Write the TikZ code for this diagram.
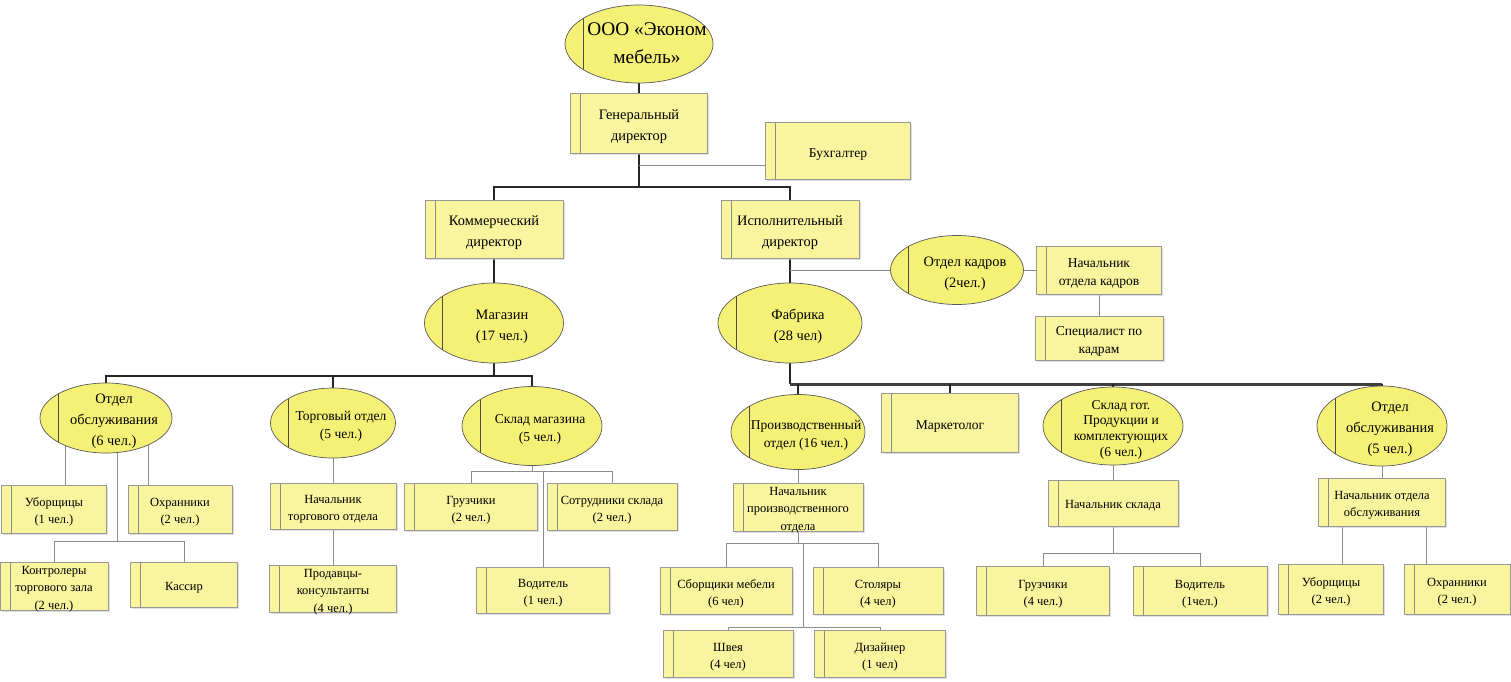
\documentclass[tikz,border=0pt]{standalone}
\usepackage{fontspec}
\setmainfont{Liberation Serif}
\usetikzlibrary{positioning,shapes.geometric,backgrounds,shadows}

\definecolor{boxfill}{RGB}{249,245,158}
\definecolor{ovalfill}{RGB}{245,241,118}
\tikzset{sz/.style 2 args={minimum width=#1*0.02cm, minimum height=#2*0.02cm}}
% text of an oval, kept right of its inner divider
\newcommand\ovaltext[2][1.35em]{\begin{tabular}{@{\hspace{0.32cm}}c@{}}\rule{0pt}{#1}#2\end{tabular}}
% text of a box with several lines
\newcommand\unittext[1]{\begin{tabular}{@{}c@{}}\rule{0pt}{1.35em}#1\end{tabular}}

\begin{document}
\begin{tikzpicture}[
  x=0.02cm, y=-0.02cm,
  font=\fontsize{7.1}{10}\selectfont,
  unit/.style={rectangle, draw=black!40, line width=0.4pt, fill=boxfill, align=center,
               inner xsep=2pt, inner ysep=-3pt,
               execute at begin node={\rule{0pt}{1.12em}},
               drop shadow={shadow xshift=1pt, shadow yshift=-1pt, fill=black!25},
               path picture={\draw[black!45, line width=0.4pt]
                 ([xshift=0.2cm]path picture bounding box.south west) --
                 ([xshift=0.2cm]path picture bounding box.north west);}},
  dept/.style={ellipse, draw=black!65, line width=0.4pt, fill=ovalfill,
               inner xsep=-9.5pt, inner ysep=-7pt,
               path picture={\draw[black!70, line width=0.4pt]
                 ([xshift=0.36cm]path picture bounding box.south west) --
                 ([xshift=0.36cm]path picture bounding box.north west);}},
  big/.style={font=\fontsize{11}{16}\selectfont},
  mid/.style={font=\fontsize{8.2}{12}\selectfont},
  sm/.style={font=\fontsize{7.7}{10.5}\selectfont},
  trunk/.style={draw=black!85, line width=1.1pt},
  bar/.style={draw=black!75, line width=1.7pt},
  twig/.style={draw=black!45, line width=0.55pt}
]
\useasboundingbox (0,0) rectangle (1511,681);
% ---------------- management
\node[dept, big, sz={148}{78}] (firm) at (639,44) {\ovaltext[0pt]{ООО «Эконом\\мебель»}};
\node[unit, mid, sz={137}{60}] (gen) at (639,123) {\unittext{Генеральный\\директор}};
\node[unit, sm, sz={145}{57}] (buh) at (838,151) {Бухгалтер};
\node[unit, mid, sz={138}{58}] (kom) at (494,229) {\unittext{Коммерческий\\директор}};
\node[unit, mid, sz={138}{58}] (isp) at (790,229) {\unittext{Исполнительный\\директор}};
\node[dept, mid, sz={139}{80}] (mag) at (494,323) {\ovaltext{Магазин\\(17 чел.)}};
\node[dept, mid, sz={144}{80}] (fab) at (790,323) {\ovaltext{Фабрика\\(28 чел)}};
\node[dept, mid, sz={133}{69}] (kadry) at (957,270) {\ovaltext{Отдел кадров\\(2чел.)}};
\node[unit, sm, sz={125}{48}] (nachk) at (1099,270) {\unittext{Начальник\\отдела кадров}};
\node[unit, sm, sz={128}{44}] (spec) at (1099,338) {\unittext{Специалист по\\кадрам}};
% ---------------- shop
\node[dept, mid, sz={132}{70}] (obs6) at (106,418) {\ovaltext{Отдел\\обслуживания\\(6 чел.)}};
\node[dept, sm, sz={125}{70}] (torg) at (333,423) {\ovaltext{Торговый отдел\\(5 чел.)}};
\node[dept, sm, sz={140}{79}] (sklm) at (532,426) {\ovaltext{Склад магазина\\(5 чел.)}};
\node[unit, sz={105}{48}] (ubor6) at (54,509) {\unittext{Уборщицы\\(1 чел.)}};
\node[unit, sz={104}{48}] (ohr6) at (180,509) {\unittext{Охранники\\(2 чел.)}};
\node[unit, sz={108}{48}] (kontr) at (54,586) {\unittext{Контролеры\\торгового зала\\(2 чел.)}};
\node[unit, sz={107}{45}] (kassa) at (184,585) {Кассир};
\node[unit, sz={126}{46}] (nachtorg) at (333,506) {\unittext{Начальник\\торгового отдела}};
\node[unit, sz={127}{45}] (prod) at (333,589) {\unittext{Продавцы-\\консультанты\\(4 чел.)}};
\node[unit, sz={133}{47}] (gruz2) at (471,507) {\unittext{Грузчики\\(2 чел.)}};
\node[unit, sz={130}{47}] (sotr) at (612,507) {\unittext{Сотрудники склада\\(2 чел.)}};
\node[unit, sz={133}{46}] (vod1) at (543,590) {\unittext{Водитель\\(1 чел.)}};
% ---------------- factory
\node[dept, sm, sz={134}{75}] (proizv) at (798,432) {\ovaltext{Производственный\\отдел (16 чел.)}};
\node[unit, sm, sz={137}{59}] (market) at (950,423) {Маркетолог};
\node[dept, sm, sz={140}{78}, font=\fontsize{7.7}{9}\selectfont] (sklg) at (1113,426)
  {\ovaltext{Склад гот.\\Продукции и\\комплектующих\\(6 чел.)}};
\node[dept, mid, sz={130}{80}] (obs5) at (1382,426) {\ovaltext{Отдел\\обслуживания\\(5 чел.)}};
\node[unit, sz={130}{48}] (nachpr) at (798,507) {\unittext{Начальник\\производственного\\отдела}};
\node[unit, sz={132}{47}] (sborsh) at (726,591) {\unittext{Сборщики мебели\\(6 чел)}};
\node[unit, sz={130}{47}] (stol) at (878,591) {\unittext{Столяры\\(4 чел)}};
\node[unit, sz={130}{47}] (shveya) at (728,654) {\unittext{Швея\\(4 чел)}};
\node[unit, sz={131}{47}] (dizain) at (880,654) {\unittext{Дизайнер\\(1 чел)}};
\node[unit, sz={130}{46}] (nachskl) at (1113,503) {Начальник склада};
\node[unit, sz={133}{49}] (gruz4) at (1043,591) {\unittext{Грузчики\\(4 чел.)}};
\node[unit, sz={134}{49}] (vod4) at (1200,591) {\unittext{Водитель\\(1чел.)}};
\node[unit, sz={127}{48}] (nachobs) at (1382,502) {\unittext{Начальник отдела\\обслуживания}};
\node[unit, sz={105}{50}] (ubor5) at (1331,589) {\unittext{Уборщицы\\(2 чел.)}};
\node[unit, sz={106}{50}] (ohr5) at (1457,589) {\unittext{Охранники\\(2 чел.)}};
% ---------------- connectors
\begin{scope}[on background layer]
\draw[trunk] (firm) -- (gen);
\draw[trunk] (gen.south) -- ++(0,34) coordinate (gj);
\draw[trunk] (kom.north) |- (gj) -| (isp.north);
\draw[twig] (gen.south) ++(0,12) coordinate (gb) -- (gb -| buh.west);
\draw[trunk] (kom) -- (mag);
\draw[trunk] (isp) -- (fab);
\draw[twig] (kadry.west) -- (kadry.west -| isp.south);
\draw[twig] (kadry) -- (nachk);
\draw[twig] (nachk) -- (spec);
% shop
\draw[trunk] (mag.south) -- ++(0,13) coordinate (mj);
\draw[trunk] (obs6.north) |- (mj) -| (sklm.north);
\draw[trunk] (torg.north) -- (torg.north |- mj);
\path (ubor6.north) ++(11,0) coordinate (u6);
\path (ohr6.north) ++(-32,0) coordinate (h6);
\draw[twig] (u6) -- (u6 |- obs6.center);
\draw[twig] (h6) -- (h6 |- obs6.center);
\path (obs6.center) ++(11,0) coordinate (o6);
\draw[twig] (o6) -- ++(0,123) coordinate (oj);
\draw[twig] (kontr.north) |- (oj) -| (kassa.north);
\draw[twig] (torg) -- (nachtorg);
\draw[twig] (nachtorg) -- (prod);
\draw[twig] (sklm.south) -- ++(0,6) coordinate (sj);
\draw[twig] (gruz2.north) |- (sj) -| (sotr.north);
\draw[twig] (vod1.north) -- (vod1.north |- sj);
% factory
\draw[trunk] (fab.south) -- ++(0,21) coordinate (fj);
\draw[bar] (fj) -- (fj -| obs5.north);
\foreach \n in {proizv,market,sklg,obs5} { \draw[trunk] (\n.north) -- (\n.north |- fj); }
\draw[twig] (proizv) -- (nachpr);
\draw[twig] (nachpr.south) -- ++(0,12) coordinate (nj);
\draw[twig] (sborsh.north) |- (nj) -| (stol.north);
\path (nj) ++(5,0) coordinate (nk);
\draw[twig] (nk) -- ++(0,84) coordinate (nl);
\draw[twig] (shveya.north) |- (nl) -| (dizain.north);
\draw[twig] (sklg) -- (nachskl);
\draw[twig] (nachskl.south) -- ++(0,27) coordinate (kj);
\draw[twig] (gruz4.north) |- (kj) -| (vod4.north);
\draw[twig] (obs5) -- (nachobs);
\path (ubor5.north) ++(11,0) coordinate (u5);
\path (ohr5.north) ++(-31,0) coordinate (h5);
\draw[twig] (u5) -- (u5 |- nachobs.south);
\draw[twig] (h5) -- (h5 |- nachobs.south);
\end{scope}
\end{tikzpicture}
\end{document}
